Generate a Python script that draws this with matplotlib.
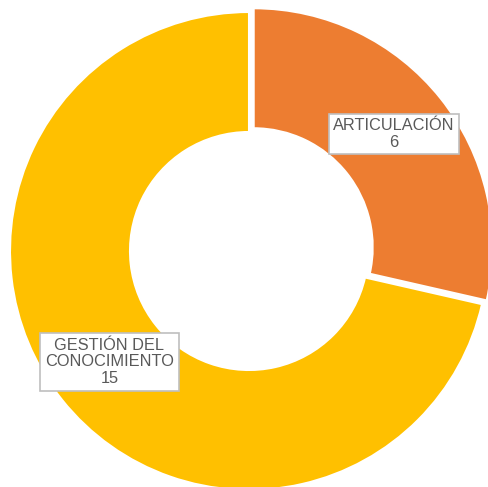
import matplotlib
matplotlib.use("Agg")
import matplotlib.pyplot as plt

# Data
categories = ["ARTICULACIÓN", "GESTIÓN DEL\nCONOCIMIENTO"]
values = [6, 15]
colors = ["#ED7D31", "#FFC000"]

plt.rcParams["font.family"] = ["Liberation Sans", "DejaVu Sans"]

W, H = 488, 487
fig = plt.figure(figsize=(W / 100, H / 100), dpi=100)
ax = fig.add_axes([0, 0, 1, 1])

center = (249, -251)
radius = 239
ring = 120

ax.pie(
    values,
    colors=colors,
    startangle=90,
    counterclock=False,
    radius=radius,
    center=center,
    explode=[6, 0],
    wedgeprops=dict(width=ring, edgecolor="white", linewidth=1.5),
    frame=True,
)
ax.set_xlim(0, W)
ax.set_ylim(-H, 0)
ax.set_aspect("equal")
ax.axis("off")

# Data label boxes
label_pos = [(394, -134), (109.5, -362)]
for cat, val, (lx, ly) in zip(categories, values, label_pos):
    ax.text(
        lx, ly, f"{cat}\n{val}",
        ha="center", va="center", fontsize=11.8, color="#595959",
        linespacing=1.12,
        bbox=dict(boxstyle="square,pad=0.28", facecolor="white",
                  edgecolor="#BFBFBF", linewidth=1.2),
    )

fig.savefig("out.png", dpi=100)
